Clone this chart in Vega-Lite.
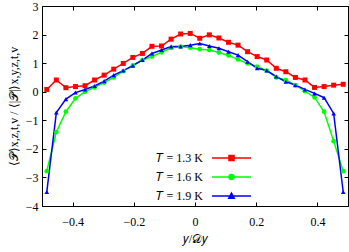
{
  "$schema": "https://vega.github.io/schema/vega-lite/v6.json",
  "width": 306,
  "height": 200,
  "autosize": "none",
  "padding": {"left": 42, "top": 6, "right": 1, "bottom": 46},
  "config": {
    "font": "Liberation Serif",
    "view": {"stroke": "black", "strokeWidth": 1},
    "axis": {"grid": false, "domainColor": "black", "tickColor": "black", "labelColor": "black", "titleColor": "black", "labelFont": "Liberation Serif", "titleFont": "Liberation Serif", "labelFontSize": 12, "titleFontSize": 12, "titleFontWeight": "normal", "tickSize": -4}
  },
  "data": {"values": [
    {"T": "𝑇 = 1.3 K", "x": -0.484375, "y": 0.08}, {"T": "𝑇 = 1.3 K", "x": -0.453125, "y": 0.41}, {"T": "𝑇 = 1.3 K", "x": -0.421875, "y": 0.14}, {"T": "𝑇 = 1.3 K", "x": -0.390625, "y": 0.18},
    {"T": "𝑇 = 1.3 K", "x": -0.359375, "y": 0.21}, {"T": "𝑇 = 1.3 K", "x": -0.328125, "y": 0.41}, {"T": "𝑇 = 1.3 K", "x": -0.296875, "y": 0.58}, {"T": "𝑇 = 1.3 K", "x": -0.265625, "y": 0.79},
    {"T": "𝑇 = 1.3 K", "x": -0.234375, "y": 0.99}, {"T": "𝑇 = 1.3 K", "x": -0.203125, "y": 1.20}, {"T": "𝑇 = 1.3 K", "x": -0.171875, "y": 1.34}, {"T": "𝑇 = 1.3 K", "x": -0.140625, "y": 1.59},
    {"T": "𝑇 = 1.3 K", "x": -0.109375, "y": 1.60}, {"T": "𝑇 = 1.3 K", "x": -0.078125, "y": 1.84}, {"T": "𝑇 = 1.3 K", "x": -0.046875, "y": 2.02}, {"T": "𝑇 = 1.3 K", "x": -0.015625, "y": 2.04},
    {"T": "𝑇 = 1.3 K", "x": 0.015625, "y": 1.87}, {"T": "𝑇 = 1.3 K", "x": 0.046875, "y": 1.99}, {"T": "𝑇 = 1.3 K", "x": 0.078125, "y": 1.88}, {"T": "𝑇 = 1.3 K", "x": 0.109375, "y": 1.73},
    {"T": "𝑇 = 1.3 K", "x": 0.140625, "y": 1.63}, {"T": "𝑇 = 1.3 K", "x": 0.171875, "y": 1.40}, {"T": "𝑇 = 1.3 K", "x": 0.203125, "y": 1.23}, {"T": "𝑇 = 1.3 K", "x": 0.234375, "y": 1.11},
    {"T": "𝑇 = 1.3 K", "x": 0.265625, "y": 0.82}, {"T": "𝑇 = 1.3 K", "x": 0.296875, "y": 0.70}, {"T": "𝑇 = 1.3 K", "x": 0.328125, "y": 0.50}, {"T": "𝑇 = 1.3 K", "x": 0.359375, "y": 0.41},
    {"T": "𝑇 = 1.3 K", "x": 0.390625, "y": 0.15}, {"T": "𝑇 = 1.3 K", "x": 0.421875, "y": 0.18}, {"T": "𝑇 = 1.3 K", "x": 0.453125, "y": 0.23}, {"T": "𝑇 = 1.3 K", "x": 0.484375, "y": 0.26},

    {"T": "𝑇 = 1.6 K", "x": -0.484375, "y": -2.78}, {"T": "𝑇 = 1.6 K", "x": -0.453125, "y": -1.41}, {"T": "𝑇 = 1.6 K", "x": -0.421875, "y": -0.70}, {"T": "𝑇 = 1.6 K", "x": -0.390625, "y": -0.23},
    {"T": "𝑇 = 1.6 K", "x": -0.359375, "y": 0.00}, {"T": "𝑇 = 1.6 K", "x": -0.328125, "y": 0.15}, {"T": "𝑇 = 1.6 K", "x": -0.296875, "y": 0.32}, {"T": "𝑇 = 1.6 K", "x": -0.265625, "y": 0.50},
    {"T": "𝑇 = 1.6 K", "x": -0.234375, "y": 0.72}, {"T": "𝑇 = 1.6 K", "x": -0.203125, "y": 0.92}, {"T": "𝑇 = 1.6 K", "x": -0.171875, "y": 1.11}, {"T": "𝑇 = 1.6 K", "x": -0.140625, "y": 1.23},
    {"T": "𝑇 = 1.6 K", "x": -0.109375, "y": 1.38}, {"T": "𝑇 = 1.6 K", "x": -0.078125, "y": 1.53}, {"T": "𝑇 = 1.6 K", "x": -0.046875, "y": 1.58}, {"T": "𝑇 = 1.6 K", "x": -0.015625, "y": 1.54},
    {"T": "𝑇 = 1.6 K", "x": 0.015625, "y": 1.49}, {"T": "𝑇 = 1.6 K", "x": 0.046875, "y": 1.46}, {"T": "𝑇 = 1.6 K", "x": 0.078125, "y": 1.37}, {"T": "𝑇 = 1.6 K", "x": 0.109375, "y": 1.27},
    {"T": "𝑇 = 1.6 K", "x": 0.140625, "y": 1.13}, {"T": "𝑇 = 1.6 K", "x": 0.171875, "y": 0.99}, {"T": "𝑇 = 1.6 K", "x": 0.203125, "y": 0.88}, {"T": "𝑇 = 1.6 K", "x": 0.234375, "y": 0.74},
    {"T": "𝑇 = 1.6 K", "x": 0.265625, "y": 0.50}, {"T": "𝑇 = 1.6 K", "x": 0.296875, "y": 0.41}, {"T": "𝑇 = 1.6 K", "x": 0.328125, "y": 0.23}, {"T": "𝑇 = 1.6 K", "x": 0.359375, "y": 0.02},
    {"T": "𝑇 = 1.6 K", "x": 0.390625, "y": -0.20}, {"T": "𝑇 = 1.6 K", "x": 0.421875, "y": -0.70}, {"T": "𝑇 = 1.6 K", "x": 0.453125, "y": -1.73}, {"T": "𝑇 = 1.6 K", "x": 0.484375, "y": -2.78},

    {"T": "𝑇 = 1.9 K", "x": -0.484375, "y": -3.51}, {"T": "𝑇 = 1.9 K", "x": -0.453125, "y": -0.73}, {"T": "𝑇 = 1.9 K", "x": -0.421875, "y": -0.26}, {"T": "𝑇 = 1.9 K", "x": -0.390625, "y": -0.03},
    {"T": "𝑇 = 1.9 K", "x": -0.359375, "y": 0.08}, {"T": "𝑇 = 1.9 K", "x": -0.328125, "y": 0.20}, {"T": "𝑇 = 1.9 K", "x": -0.296875, "y": 0.37}, {"T": "𝑇 = 1.9 K", "x": -0.265625, "y": 0.58},
    {"T": "𝑇 = 1.9 K", "x": -0.234375, "y": 0.74}, {"T": "𝑇 = 1.9 K", "x": -0.203125, "y": 0.91}, {"T": "𝑇 = 1.9 K", "x": -0.171875, "y": 1.11}, {"T": "𝑇 = 1.9 K", "x": -0.140625, "y": 1.34},
    {"T": "𝑇 = 1.9 K", "x": -0.109375, "y": 1.46}, {"T": "𝑇 = 1.9 K", "x": -0.078125, "y": 1.58}, {"T": "𝑇 = 1.9 K", "x": -0.046875, "y": 1.58}, {"T": "𝑇 = 1.9 K", "x": -0.015625, "y": 1.63},
    {"T": "𝑇 = 1.9 K", "x": 0.015625, "y": 1.69}, {"T": "𝑇 = 1.9 K", "x": 0.046875, "y": 1.60}, {"T": "𝑇 = 1.9 K", "x": 0.078125, "y": 1.52}, {"T": "𝑇 = 1.9 K", "x": 0.109375, "y": 1.40},
    {"T": "𝑇 = 1.9 K", "x": 0.140625, "y": 1.28}, {"T": "𝑇 = 1.9 K", "x": 0.171875, "y": 1.05}, {"T": "𝑇 = 1.9 K", "x": 0.203125, "y": 0.82}, {"T": "𝑇 = 1.9 K", "x": 0.234375, "y": 0.74},
    {"T": "𝑇 = 1.9 K", "x": 0.265625, "y": 0.53}, {"T": "𝑇 = 1.9 K", "x": 0.296875, "y": 0.35}, {"T": "𝑇 = 1.9 K", "x": 0.328125, "y": 0.23}, {"T": "𝑇 = 1.9 K", "x": 0.359375, "y": 0.08},
    {"T": "𝑇 = 1.9 K", "x": 0.390625, "y": -0.06}, {"T": "𝑇 = 1.9 K", "x": 0.421875, "y": -0.21}, {"T": "𝑇 = 1.9 K", "x": 0.453125, "y": -0.76}, {"T": "𝑇 = 1.9 K", "x": 0.484375, "y": -3.51}
  ]},
  "resolve": {"axis": {"x": "independent", "y": "independent"}},
  "layer": [
    {
      "mark": {"type": "line", "strokeWidth": 1.5},
      "encoding": {
        "x": {"field": "x", "type": "quantitative", "scale": {"domain": [-0.5, 0.5], "nice": false}, "axis": {"orient": "bottom", "values": [-0.4, -0.2, 0, 0.2, 0.4], "format": ".1~f", "labelPadding": 14, "labelBaseline": "top", "title": "𝑦/𝒟𝑦", "titlePadding": 6}},
        "y": {"field": "y", "type": "quantitative", "scale": {"domain": [-4, 3], "nice": false}, "axis": {"orient": "left", "values": [-4, -3, -2, -1, 0, 1, 2, 3], "labelPadding": 8, "title": "⟨𝒫⟩x,z,t,v / ⟨|𝒫|⟩x,y,z,t,v", "titlePadding": 5}},
        "color": {
          "field": "T", "type": "nominal",
          "scale": {"domain": ["𝑇 = 1.3 K", "𝑇 = 1.6 K", "𝑇 = 1.9 K"], "range": ["#ff0000", "#00ff00", "#0000ff"]},
          "legend": {
            "orient": "none", "legendX": 183.5, "legendY": 146, "title": null, "padding": 0,
            "symbolSize": 100, "symbolStrokeWidth": 1.5, "labelOffset": -34.5, "labelAlign": "right",
            "rowPadding": 7, "labelFont": "Liberation Serif", "labelFontSize": 12, "labelColor": "black",
            "encoding": {"symbols": {
              "fill": {"value": {"expr": "scale('color', datum.value)"}},
              "stroke": {"value": {"expr": "scale('color', datum.value)"}},
              "shape": {"value": {"expr": "indexof(datum.value, '1.3') >= 0 ? 'M-3.9,0H3.9M-0.5,-0.5H0.5V0.5H-0.5Z' : (indexof(datum.value, '1.6') >= 0 ? 'M-3.9,0H3.9M-0.5,0A0.5,0.5,0,1,0,0.5,0A0.5,0.5,0,1,0,-0.5,0Z' : 'M-3.9,0H3.9M0,-0.6L0.55,0.45L-0.55,0.45Z')"}}
            }}
          }
        }
      }
    },
    {
      "transform": [{"filter": "indexof(datum.T, '1.3') >= 0"}],
      "mark": {"type": "point", "filled": true, "opacity": 1, "size": 25, "shape": "square"},
      "encoding": {
        "x": {"field": "x", "type": "quantitative", "axis": {"orient": "top", "values": [-0.4, -0.2, 0, 0.2, 0.4], "labels": false, "title": null}},
        "y": {"field": "y", "type": "quantitative", "axis": {"orient": "right", "values": [-4, -3, -2, -1, 0, 1, 2, 3], "labels": false, "title": null}},
        "color": {"field": "T", "type": "nominal", "legend": null}
      }
    },
    {
      "transform": [{"filter": "indexof(datum.T, '1.6') >= 0"}],
      "mark": {"type": "point", "filled": true, "opacity": 1, "size": 22, "shape": "circle"},
      "encoding": {
        "x": {"field": "x", "type": "quantitative", "axis": null},
        "y": {"field": "y", "type": "quantitative", "axis": null},
        "color": {"field": "T", "type": "nominal", "legend": null}
      }
    },
    {
      "transform": [{"filter": "indexof(datum.T, '1.9') >= 0"}],
      "mark": {"type": "point", "filled": true, "opacity": 1, "size": 22, "shape": "triangle-up"},
      "encoding": {
        "x": {"field": "x", "type": "quantitative", "axis": null},
        "y": {"field": "y", "type": "quantitative", "axis": null},
        "color": {"field": "T", "type": "nominal", "legend": null}
      }
    }
  ]
}
